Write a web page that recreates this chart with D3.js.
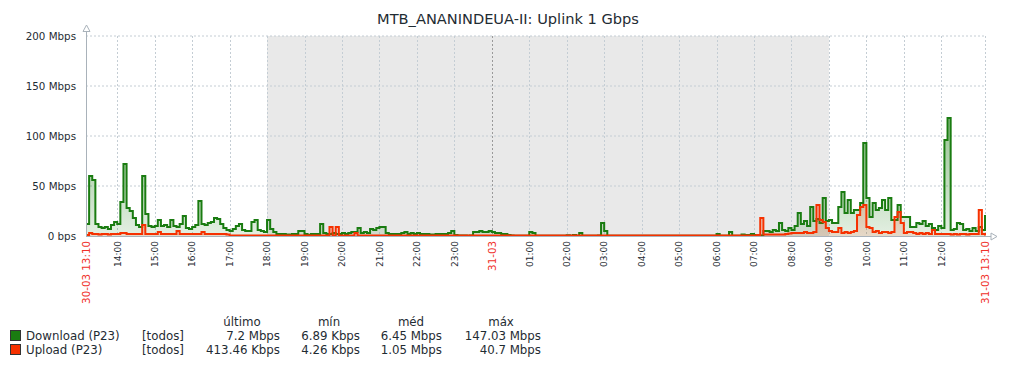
<!DOCTYPE html>
<html><head><meta charset="utf-8">
<script src="https://cdn.jsdelivr.net/npm/d3@7"></script>
<style>body{margin:0;background:#fff;}svg{display:block;font-family:"DejaVu Sans",sans-serif;}</style>
</head><body><svg id="c" width="1016" height="368"></svg>
<script>
const title = "MTB_ANANINDEUA-II: Uplink 1 Gbps";
const startTime = "2025-03-30T13:10:00";
const endTime = "2025-03-31T13:10:00";
const stepMinutes = 5;
const nightStart = "2025-03-30T18:00:00";
const nightEnd = "2025-03-31T09:00:00";
const yTicks = [0, 50, 100, 150, 200];
const yTickLabels = ["0 bps", "50 Mbps", "100 Mbps", "150 Mbps", "200 Mbps"];
const seriesNames = ["Download (P23)", "Upload (P23)"];
const seriesColors = ["#1A7C11", "#F63100"];
const legendHeaders = ["último", "mín", "méd", "máx"];
const legendScope = ["[todos]", "[todos]"];
const legendLast = ["7.2 Mbps", "413.46 Kbps"];
const legendMin = ["6.89 Kbps", "4.26 Kbps"];
const legendAvg = ["6.45 Mbps", "1.05 Mbps"];
const legendMax = ["147.03 Mbps", "40.7 Mbps"];
// Mbps, one value every 5 minutes from 30-03 13:10
const download = [
12,60,56,12,9,8,9,7,11,14,
12,34,72,28,25,18,11,9,60,22,10,9,
10,16,10,11,9,16,10,9,12,20,8,7,
9,11,35,12,11,13,14,18,17,12,8,6,
5,7,10,12,6,5,5,14,16,6,5,4,
16,7,4,2,2,2,1.5,1.5,2,2,5,5,
2,1,2,2,2,12,3,2,2,3,2,2,
3,2,3,4,4,8,3,4,3,7,6,8,
9,9,3,2,2,2,2,3,4,2,3,2,
3,2,2,2,1.5,1.5,2,2,2,2,3,5,
1,0.5,0.5,0.5,0.3,0.5,4,4,5,4,4,5,
4,3,3,2,2,1,0.5,0.3,0.3,0.3,0.3,0.3,
4,3,0.3,0.3,0.3,0.3,0.3,0.3,0.3,0.3,0.3,0.3,
0.8,0.3,1,0.3,3,0.3,0.3,0.3,0.3,0.3,0.5,13,
5,0.3,0.3,0.3,0.3,0.3,0.3,0.3,0.3,0.3,0.3,0.3,
0.3,0.3,0.3,0.3,0.3,0.3,0.3,0.3,0.3,0.3,0.3,0.3,
0.3,0.3,0.3,0.3,0.3,0.3,0.3,0.3,0.3,0.3,0.3,0.3,
2,0.3,0.3,0.3,4,0.3,0.3,0.3,1.5,1,1,2,
1,1,0.5,5,5,4,6,5,13,6,5,8,
6,10,23,12,15,10,29,15,17,13,38,15,
16,13,13,29,44,23,36,23,26,26,33,93,
38,19,33,26,28,36,26,38,16,16,31,19,
19,19,9,9,13,12,15,10,12,8,6,10,
8,96,118,6,7,13,12,6,7,5,8,5,9,6,21
];
const upload = [
1,3,2,2,1.5,2,2,1.5,2,2,
2,3,3,2,2,2,2,2,11,2,2,2,
2,4,2,2,2,2,2,5,2,2,2,2,
2,2,2,4,2,2,2,2,2,2,2,1.5,
0.5,0.5,0.5,0.5,0.5,0.5,0.5,0.5,0.5,0.5,0.5,0.5,
0.5,0.5,0.5,0.5,0.5,0.5,0.5,0.5,0.5,0.5,0.5,0.5,
0.5,0.5,0.5,0.5,0.5,0.5,0.5,0.5,9,0.5,9,0.5,
0.5,0.5,0.5,0.5,3,0.5,0.5,0.5,0.5,0.5,0.5,0.5,
0.5,0.5,0.5,0.5,0.5,0.5,0.5,0.5,0.5,0.5,0.5,0.5,
0.5,0.5,0.5,0.5,0.5,0.5,0.5,0.5,0.5,0.5,0.5,0.5,
0.5,0.5,0.5,0.5,0.5,0.5,0.5,0.5,0.5,0.5,0.5,0.5,
0.5,0.5,0.5,0.5,0.5,0.5,0.5,0.5,0.5,0.5,0.5,0.5,
0.5,0.5,0.5,0.5,0.5,0.5,0.5,0.5,0.5,0.5,0.5,0.5,
0.5,0.5,0.5,0.5,0.5,0.5,0.5,0.5,0.5,0.5,0.5,0.5,
0.5,0.5,0.5,0.5,0.5,0.5,0.5,0.5,0.5,0.5,0.5,0.5,
0.5,0.5,0.5,0.5,0.5,0.5,0.5,0.5,0.5,0.5,0.5,0.5,
0.5,0.5,0.5,0.5,0.5,0.5,0.5,0.5,0.5,0.5,0.5,0.5,
0.5,0.5,0.5,0.5,0.5,0.5,0.5,0.5,0.5,0.5,0.5,0.5,
0.5,1,18,1.5,1.5,1.5,1.5,1.5,1.5,1.5,2,2.5,
3,3,3,3,4,3,3,4,31,16,14,8,
5,4,4,8,3,4,3,4,5,21,29,31,
9,8,4,5,3,4,4,3,4,19,24,13,
3,4,4,3,2,3,2,3,2,6,2,2,
2,2,2,1.5,2,1.5,2,2,1.5,2,2,2,26,2,0.4
];

const svg = d3.select("#c");
const M = {left: 86, right: 985, top: 36, bottom: 236};
const t0 = new Date(startTime), t1 = new Date(endTime);
const x = d3.scaleTime().domain([t0, t1]).range([M.left, M.right]);
const y = d3.scaleLinear().domain([0, 200]).range([M.bottom, M.top]);
const times = download.map((d, i) => d3.timeMinute.offset(t0, i * stepMinutes));
const textColor = "#1f2c33";

// title
svg.append("text").attr("x", 508).attr("y", 24).attr("text-anchor", "middle")
  .attr("font-size", 14.6).attr("fill", textColor).text(title);

// night band
svg.append("rect").attr("x", x(new Date(nightStart))).attr("y", M.top)
  .attr("width", x(new Date(nightEnd)) - x(new Date(nightStart))).attr("height", M.bottom - M.top)
  .attr("fill", "#e9e9e9");

// gradients
const defs = svg.append("defs");
seriesColors.forEach((c, k) => {
  const g = defs.append("linearGradient").attr("id", "g" + k).attr("gradientUnits", "userSpaceOnUse")
    .attr("x1", 0).attr("x2", 0).attr("y1", M.top).attr("y2", M.bottom);
  g.append("stop").attr("offset", 0).attr("stop-color", c).attr("stop-opacity", k ? 0.6 : 0.7);
  g.append("stop").attr("offset", 1).attr("stop-color", c).attr("stop-opacity", 0.12);
});

// grid: hourly ticks, skipping the hour too close to the end label
const hours = d3.timeHour.range(d3.timeHour.ceil(t0), t1).filter(h => (t1 - h) > 30 * 60000);
const gridStroke = "#c4cdd4";
svg.append("g").selectAll("line").data(yTicks.slice(1)).join("line")
  .attr("x1", M.left).attr("x2", M.right).attr("y1", d => y(d)).attr("y2", d => y(d))
  .attr("stroke", gridStroke).attr("stroke-dasharray", "2,2");
svg.append("g").selectAll("line").data(hours.concat([t1])).join("line")
  .attr("x1", d => Math.round(x(d)) + 0.5).attr("x2", d => Math.round(x(d)) + 0.5)
  .attr("y1", M.top).attr("y2", M.bottom)
  .attr("stroke", d => d.getHours() === 0 ? "#9a9a9a" : gridStroke).attr("stroke-dasharray", "2,2");

// series
[download, upload].forEach((vals, k) => {
  const pts = vals.map((v, i) => [times[i], v]);
  const area = d3.area().x(d => x(d[0])).y0(y(0)).y1(d => y(d[1])).curve(d3.curveStepAfter);
  const line = d3.line().x(d => x(d[0])).y(d => y(d[1])).curve(d3.curveStepAfter);
  svg.append("path").attr("d", area(pts)).attr("fill", "url(#g" + k + ")");
  svg.append("path").attr("d", line(pts)).attr("fill", "none").attr("stroke", seriesColors[k])
    .attr("stroke-width", 2).attr("stroke-linejoin", "miter");
});

// axes lines + arrows
const axisColor = "#a9b2ba";
svg.append("line").attr("x1", M.left + 0.5).attr("x2", M.left + 0.5).attr("y1", 30).attr("y2", M.bottom + 1)
  .attr("stroke", axisColor);
svg.append("line").attr("x1", M.left).attr("x2", 991).attr("y1", M.bottom + 0.5).attr("y2", M.bottom + 0.5)
  .attr("stroke", axisColor);
svg.append("path").attr("d", `M${M.left-3},${31.5}L${M.left+0.5},${25}L${M.left+4},${31.5}Z`)
  .attr("fill", "#fff").attr("stroke", axisColor);
svg.append("path").attr("d", `M991,${M.bottom-3}L997,${M.bottom+0.5}L991,${M.bottom+4}Z`)
  .attr("fill", "#fff").attr("stroke", axisColor);

// y labels
svg.append("g").selectAll("text").data(yTicks).join("text")
  .attr("x", 76).attr("y", d => y(d) + 3.5).attr("text-anchor", "end")
  .attr("font-size", 10.3).attr("fill", textColor).text((d, i) => yTickLabels[i]);

// x labels
const red = "#f0302a";
const fmtHour = d3.timeFormat("%H:%M"), fmtDay = d3.timeFormat("%d-%m"), fmtFull = d3.timeFormat("%d-%m %H:%M");
const xl = [{t: t0, s: fmtFull(t0), red: true}]
  .concat(hours.map(h => h.getHours() === 0 ? {t: h, s: fmtDay(h), red: true} : {t: h, s: fmtHour(h), red: false}))
  .concat([{t: t1, s: fmtFull(t1), red: true}]);
svg.append("g").selectAll("text").data(xl).join("text")
  .attr("transform", d => `translate(${x(d.t) + (d.red ? 3.8 : 3.3)},241) rotate(-90)`)
  .attr("text-anchor", "end").attr("font-size", d => d.red ? 10.3 : 9)
  .attr("fill", d => d.red ? red : textColor).text(d => d.s);

// legend
const lg = svg.append("g").attr("font-size", 11.8).attr("fill", textColor);
const headerX = [242, 329, 411, 501];
lg.selectAll("text.h").data(legendHeaders).join("text").attr("class", "h")
  .attr("x", (d, i) => headerX[i]).attr("y", 326).attr("text-anchor", "middle").text(d => d);
const colsRight = [280, 360, 442, 541];
seriesNames.forEach((n, k) => {
  const yy = 340 + k * 14;
  lg.append("rect").attr("x", 10.5).attr("y", yy - 9.5).attr("width", 10).attr("height", 10)
    .attr("fill", seriesColors[k]).attr("stroke", "#333");
  lg.append("text").attr("x", 26).attr("y", yy).text(n);
  lg.append("text").attr("x", 142).attr("y", yy).text(legendScope[k]);
  [legendLast, legendMin, legendAvg, legendMax].forEach((arr, j) => {
    lg.append("text").attr("x", colsRight[j]).attr("y", yy).attr("text-anchor", "end").text(arr[k]);
  });
});
</script></body></html>
